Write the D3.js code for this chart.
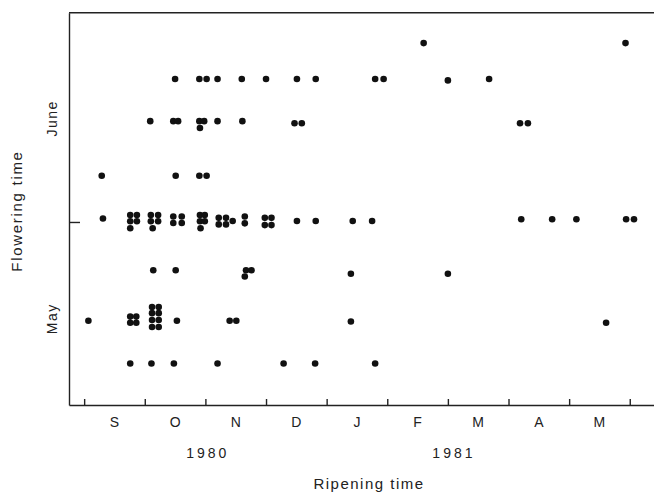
<!DOCTYPE html>
<html lang="en">
<head>
  <meta charset="utf-8">
  <title>Flowering vs ripening time</title>
  <script src="https://cdn.jsdelivr.net/npm/d3@7/dist/d3.min.js"></script>
  <style>
    body { margin: 0; background: #fff; }
    text { font-family: "Liberation Sans", Arial, sans-serif; fill: #222; }
    .axis path, .axis line { stroke: #222; stroke-width: 1.4; }
  </style>
</head>
<body>
  <div id="chart-area"></div>

  <script>
    // ripening: months after 1 Sep 1980; flowering: days from 1 June
    var ripening = [
      5.60, 8.93,
      1.50, 1.90, 2.02, 2.20, 2.60, 3.00, 3.51, 3.82, 4.80, 4.94, 6.00, 6.68,
      1.09, 1.47, 1.55, 1.90, 1.98, 1.91, 2.20, 2.61, 3.47, 3.59, 7.19, 7.32,
      0.29, 1.51, 1.90, 2.02,
      0.31,
      0.76, 0.87, 0.76, 0.87, 0.76,
      1.10, 1.22, 1.10, 1.22, 1.13,
      1.47, 1.61, 1.47, 1.61,
      1.91, 1.99, 1.91, 1.99, 1.92,
      2.22, 2.34, 2.22, 2.34,
      2.45, 2.65, 2.65,
      2.98, 3.09, 2.98, 3.09,
      3.51, 3.82, 4.43, 4.75,
      7.21, 7.72, 8.12, 8.94, 9.07,
      1.14, 1.51, 2.67, 2.76, 2.65, 4.40, 6.00,
      0.07,
      0.76, 0.86, 0.76, 0.86,
      1.12, 1.23, 1.12, 1.23, 1.12, 1.23, 1.12, 1.23,
      1.53, 2.40, 2.51, 4.40, 8.61,
      0.76, 1.11, 1.48, 2.20, 3.29, 3.81, 4.80
    ];
    var flowering = [
      25.9, 25.9,
      20.7, 20.7, 20.7, 20.7, 20.7, 20.7, 20.7, 20.7, 20.7, 20.7, 20.5, 20.7,
      14.6, 14.6, 14.6, 14.6, 14.6, 13.6, 14.6, 14.6, 14.3, 14.3, 14.3, 14.3,
      6.7, 6.7, 6.7, 6.7,
      0.5,
      1.0, 1.0, 0.1, 0.1, -0.9,
      1.0, 1.0, 0.1, 0.1, -0.9,
      0.8, 0.8, -0.15, -0.15,
      1.0, 1.0, 0.1, 0.1, -0.9,
      0.6, 0.6, -0.35, -0.35,
      0.15, 0.8, -0.2,
      0.6, 0.6, -0.45, -0.45,
      0.15, 0.15, 0.15, 0.15,
      0.4, 0.4, 0.4, 0.4, 0.4,
      -7.0, -7.0, -7.0, -7.0, -7.9, -7.5, -7.5,
      -14.3,
      -13.7, -13.7, -14.6, -14.6,
      -12.3, -12.3, -13.2, -13.2, -14.2, -14.2, -15.2, -15.2,
      -14.3, -14.3, -14.3, -14.4, -14.6,
      -20.5, -20.5, -20.5, -20.5, -20.5, -20.5, -20.5
    ];

    var monthLabels = ["S", "O", "N", "D", "J", "F", "M", "A", "M"];
    var yearLabels = [{ text: "1980", at: 2.04 }, { text: "1981", at: 6.1 }];
    var flowerLabels = [{ text: "June", at: 15 }, { text: "May", at: -14 }];

    var svgWidth = 654;
    var svgHeight = 492;

    var svg = d3.select("#chart-area")
                .append("svg")
                .attr("width", svgWidth)
                .attr("height", svgHeight);

    var x = d3.scaleLinear()
              .domain([-0.25, 9.4])
              .range([69, 654]);

    var y = d3.scaleLinear()
              .domain([-26.5, 30.3])
              .range([405, 12.7]);

    // top frame line
    svg.append("line")
       .attr("x1", x.range()[0]).attr("x2", x.range()[1])
       .attr("y1", y.range()[1]).attr("y2", y.range()[1])
       .attr("stroke", "#222")
       .attr("stroke-width", 1.4);

    // x axis: month boundaries
    var xAxisCall = d3.axisBottom(x)
                      .tickValues(d3.range(0, 10))
                      .tickSize(-6)
                      .tickSizeOuter(0)
                      .tickFormat("");
    svg.append("g")
       .attr("class", "axis")
       .attr("transform", "translate(0," + y.range()[0] + ")")
       .call(xAxisCall);

    // y axis: single tick at 1 June
    var yAxisCall = d3.axisLeft(y)
                      .tickValues([0])
                      .tickSize(-11)
                      .tickSizeOuter(0)
                      .tickFormat("");
    svg.append("g")
       .attr("class", "axis")
       .attr("transform", "translate(" + x.range()[0] + ",0)")
       .call(yAxisCall);

    // month labels
    svg.selectAll(".month")
       .data(monthLabels)
       .enter()
       .append("text")
       .attr("class", "month")
       .attr("x", (d, i) => x(i + 0.5))
       .attr("y", 427)
       .attr("text-anchor", "middle")
       .attr("font-size", 14)
       .text((d) => d);

    svg.selectAll(".year")
       .data(yearLabels)
       .enter()
       .append("text")
       .attr("class", "year")
       .attr("x", (d) => x(d.at))
       .attr("y", 458)
       .attr("text-anchor", "middle")
       .attr("font-size", 14)
       .attr("letter-spacing", 3)
       .text((d) => d.text);

    svg.append("text")
       .attr("x", 369)
       .attr("y", 489)
       .attr("text-anchor", "middle")
       .attr("font-size", 15)
       .attr("letter-spacing", 1.5)
       .text("Ripening time");

    svg.selectAll(".flower")
       .data(flowerLabels)
       .enter()
       .append("text")
       .attr("class", "flower")
       .attr("transform", (d) => "translate(57," + y(d.at) + ") rotate(-90)")
       .attr("text-anchor", "middle")
       .attr("font-size", 14)
       .attr("letter-spacing", 1.5)
       .text((d) => d.text);

    svg.append("text")
       .attr("transform", "translate(22,211) rotate(-90)")
       .attr("text-anchor", "middle")
       .attr("font-size", 15)
       .attr("letter-spacing", 1.7)
       .text("Flowering time");

    // dots
    svg.selectAll("circle")
       .data(ripening)
       .enter()
       .append("circle")
       .attr("cx", (d) => x(d))
       .attr("cy", (d, i) => y(flowering[i]))
       .attr("r", 3.3)
       .attr("fill", "#111");
  </script>
</body>
</html>
